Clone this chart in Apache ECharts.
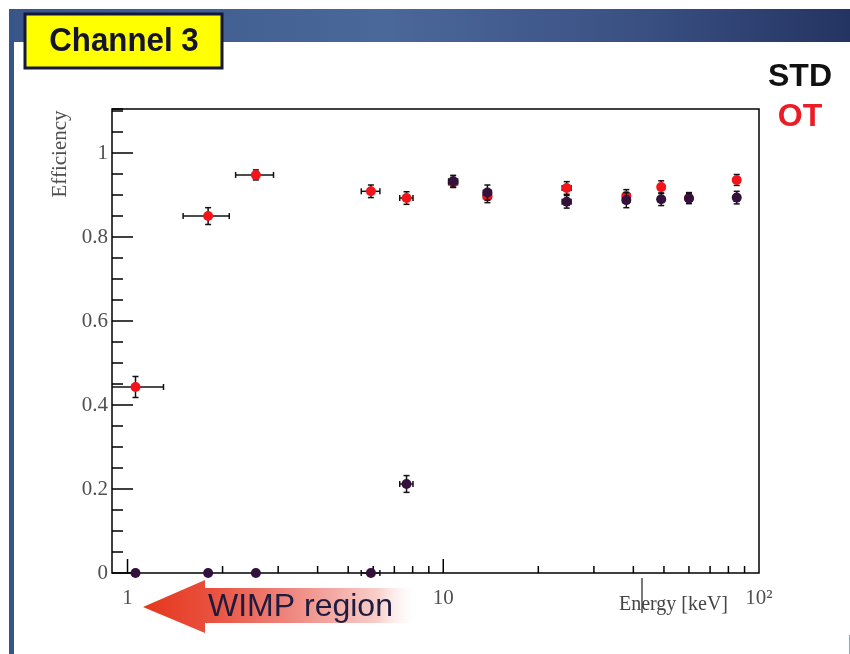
<!DOCTYPE html>
<html>
<head>
<meta charset="utf-8">
<title>Channel 3 efficiency</title>
<script src="https://cdn.jsdelivr.net/npm/echarts@6/dist/echarts.min.js"></script>
<style>
  html, body { margin: 0; padding: 0; background: #fff; }
  #chart { width: 850px; height: 654px; }
</style>
</head>
<body>
<div id="chart"></div>
<script>
// energy bins (keV)
const energy = [1.06, 1.8, 2.55, 5.9, 7.65, 10.75, 13.8, 24.6, 38, 49, 60, 85];

// OT (red)
const effOT = [0.443, 0.85, 0.948, 0.909, 0.893, 0.93, 0.897, 0.917, 0.898, 0.919, 0.893, 0.936];
const energyErrOT = [0.24, 0.3, 0.35, 0.4, 0.37, 0.35, 0.4, 0.8, 1.0, 1.2, 1.4, 1.8];
const effOTErr = [0.025, 0.02, 0.012, 0.015, 0.015, 0.012, 0.015, 0.015, 0.015, 0.015, 0.013, 0.013];

// STD (dark)
const effSTD = [0, 0, 0, 0, 0.212, 0.933, 0.906, 0.884, 0.888, 0.89, 0.892, 0.894];
const energyErrSTD = [0, 0, 0, 0.4, 0.37, 0.35, 0.4, 0.8, 1.0, 1.2, 1.4, 1.8];
const effSTDErr = [0, 0, 0, 0, 0.02, 0.014, 0.018, 0.015, 0.018, 0.015, 0.012, 0.015];

// log axis decoration
const xMajorTicks = [1, 10];
const xMinorTicks = [2, 3, 4, 5, 6, 7, 8, 9, 20, 30, 40, 50, 60, 70, 80, 90];
const xLabelValues = [1, 10, 100];
const xLabelTexts = ['1', '10', '10²'];

const SERIF = '"Liberation Serif", "DejaVu Serif", serif';
const SANS = '"Liberation Sans", Arial, sans-serif';

const chart = echarts.init(document.getElementById('chart'));

const errorPoints = (color) => (params, api) => {
  const e = api.value(0), v = api.value(1), ex = api.value(2), ey = api.value(3);
  const cs = params.coordSys;
  const [px, py] = api.coord([e, v]);
  const xl = api.coord([e - ex, v])[0];
  const xr = api.coord([e + ex, v])[0];
  const yt = api.coord([e, v + ey])[1];
  const yb = api.coord([e, v - ey])[1];
  const st = { stroke: '#111', lineWidth: 1.5 };
  const cap = 3;
  const kids = [];
  if (ex > 0) {
    const l = Math.max(xl, cs.x), r = Math.min(xr, cs.x + cs.width);
    kids.push({ type: 'line', shape: { x1: l, y1: py, x2: r, y2: py }, style: st });
    if (xl >= cs.x) kids.push({ type: 'line', shape: { x1: xl, y1: py - cap, x2: xl, y2: py + cap }, style: st });
    if (xr <= cs.x + cs.width) kids.push({ type: 'line', shape: { x1: xr, y1: py - cap, x2: xr, y2: py + cap }, style: st });
  }
  if (ey > 0) {
    kids.push({ type: 'line', shape: { x1: px, y1: yt, x2: px, y2: yb }, style: st });
    kids.push({ type: 'line', shape: { x1: px - cap, y1: yt, x2: px + cap, y2: yt }, style: st });
    kids.push({ type: 'line', shape: { x1: px - cap, y1: yb, x2: px + cap, y2: yb }, style: st });
  }
  kids.push({ type: 'circle', shape: { cx: px, cy: py, r: 5 }, style: { fill: color } });
  return { type: 'group', children: kids };
};

const options = {
  animation: false,
  backgroundColor: '#fff',
  grid: {
    left: 112,
    right: 91,
    top: 109,
    bottom: 81,
    show: true,
    borderColor: '#000',
    borderWidth: 1.5,
  },
  xAxis: {
    type: 'log',
    logBase: 10,
    min: 0.893,
    max: 100,
    axisLine: { show: false },
    axisTick: { show: false },
    axisLabel: { show: false },
    splitLine: { show: false },
  },
  yAxis: [
    {
      type: 'value',
      min: 0,
      max: 1.105,
      interval: 0.2,
      axisLine: { show: false },
      axisTick: { inside: true, length: 21, lineStyle: { color: '#000', width: 1.5 } },
      axisLabel: { fontFamily: SERIF, fontSize: 21, color: '#505050', margin: 4, showMaxLabel: false },
      splitLine: { show: false },
    },
    {
      type: 'value',
      position: 'left',
      min: 0,
      max: 1.105,
      interval: 0.05,
      axisLine: { show: false },
      axisTick: { inside: true, length: 11, lineStyle: { color: '#000', width: 1.5 } },
      axisLabel: { show: false },
      splitLine: { show: false },
    },
  ],
  series: [
    {
      name: 'OT',
      type: 'custom',
      renderItem: errorPoints('#f5131b'),
      data: energy.map((e, i) => [e, effOT[i], energyErrOT[i], effOTErr[i]]),
      z: 3,
    },
    {
      name: 'STD',
      type: 'custom',
      renderItem: errorPoints('#34103c'),
      data: energy.map((e, i) => [e, effSTD[i], energyErrSTD[i], effSTDErr[i]]),
      z: 4,
    },
    {
      // x ticks, pointing up from the bottom edge
      type: 'custom',
      renderItem: (params, api) => {
        const v = api.value(0);
        const x = api.coord([v, 0])[0];
        const base = params.coordSys.y + params.coordSys.height;
        const len = xMajorTicks.includes(v) ? 14 : 7;
        return {
          type: 'line',
          shape: { x1: x, y1: base, x2: x, y2: base - len },
          style: { stroke: '#000', lineWidth: 1.5 },
        };
      },
      data: xMajorTicks.concat(xMinorTicks).map((v) => [v, 0]),
      silent: true,
      z: 2,
    },
    {
      // x tick labels
      type: 'custom',
      renderItem: (params, api) => {
        const x = api.coord([api.value(0), 0])[0];
        const base = params.coordSys.y + params.coordSys.height;
        return {
          type: 'text',
          x: x,
          y: base + 25,
          style: {
            text: xLabelTexts[params.dataIndex],
            font: '21px ' + SERIF,
            fill: '#505050',
            align: 'center',
            verticalAlign: 'middle',
          },
        };
      },
      data: xLabelValues.map((v) => [v, 0]),
      silent: true,
      z: 2,
    },
  ],
  graphic: [
    {
      type: 'rect',
      shape: { x: 9, y: 9, width: 841, height: 33, r: [5, 0, 0, 0] },
      style: {
        fill: new echarts.graphic.LinearGradient(0, 0, 1, 0, [
          { offset: 0, color: '#3a5688' },
          { offset: 0.45, color: '#4b689b' },
          { offset: 0.75, color: '#3a5083' },
          { offset: 1, color: '#243462' },
        ]),
      },
    },
    { type: 'rect', shape: { x: 9, y: 9, width: 5, height: 645 }, style: { fill: '#36558a' } },
    { type: 'rect', shape: { x: 849, y: 635, width: 1, height: 19 }, style: { fill: '#8ea2c8' } },
    {
      type: 'rect',
      shape: { x: 25, y: 14, width: 197, height: 54 },
      style: { fill: '#ffff00', stroke: '#15163c', lineWidth: 3 },
    },
    {
      type: 'text',
      x: 124,
      y: 42,
      scaleX: 0.92,
      style: { text: 'Channel 3', font: 'bold 34px ' + SANS, fill: '#14142e', align: 'center', verticalAlign: 'middle' },
    },
    {
      type: 'text',
      x: 800,
      y: 77,
      style: { text: 'STD', font: 'bold 32px ' + SANS, fill: '#111', align: 'center', verticalAlign: 'middle' },
    },
    {
      type: 'text',
      x: 800,
      y: 117,
      style: { text: 'OT', font: 'bold 32px ' + SANS, fill: '#ec1c27', align: 'center', verticalAlign: 'middle' },
    },
    {
      type: 'text',
      x: 60,
      y: 154,
      rotation: Math.PI / 2,
      style: { text: 'Efficiency', font: '21px ' + SERIF, fill: '#505050', align: 'center', verticalAlign: 'middle' },
    },
    {
      type: 'polygon',
      shape: {
        points: [[143, 607], [205, 580], [205, 588], [420, 588], [420, 623], [205, 623], [205, 633]],
      },
      style: {
        fill: new echarts.graphic.LinearGradient(0, 0, 1, 0, [
          { offset: 0, color: '#e6361c' },
          { offset: 0.25, color: '#e9513f' },
          { offset: 0.55, color: '#ef8b83' },
          { offset: 0.85, color: '#f8cfcb' },
          { offset: 1, color: 'rgba(255,255,255,0)' },
        ]),
      },
    },
    {
      type: 'text',
      x: 208,
      y: 607,
      style: { text: 'WIMP region', font: '32px ' + SANS, fill: '#1d1b3f', align: 'left', verticalAlign: 'middle' },
    },
    {
      type: 'line',
      shape: { x1: 642, y1: 578, x2: 642, y2: 613 },
      style: { stroke: '#222', lineWidth: 1.2 },
    },
    {
      type: 'text',
      x: 728,
      y: 605,
      style: { text: 'Energy [keV]', font: '20px ' + SERIF, fill: '#444', align: 'right', verticalAlign: 'middle' },
    },
  ],
};

chart.setOption(options);
</script>
</body>
</html>
